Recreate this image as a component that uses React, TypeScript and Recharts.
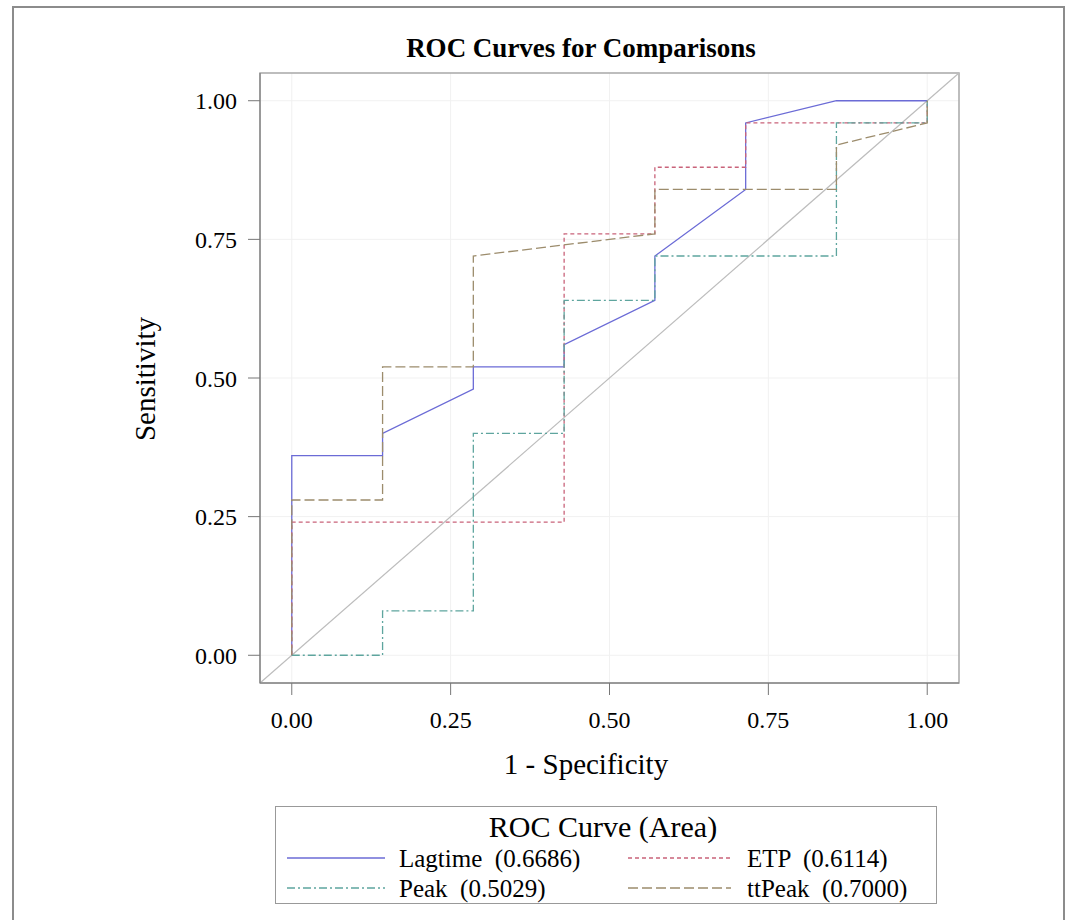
import {
  LineChart,
  Line,
  XAxis,
  YAxis,
  CartesianGrid,
  ReferenceLine,
  ReferenceArea,
} from 'recharts';

// ROC points (1 - specificity, sensitivity)
const lagtimeX = [0, 0, 0.1429, 0.1429, 0.2857, 0.2857, 0.4286, 0.4286, 0.5714, 0.5714, 0.7143, 0.7143, 0.8571, 1];
const lagtimeY = [0, 0.36, 0.36, 0.4, 0.48, 0.52, 0.52, 0.56, 0.64, 0.72, 0.84, 0.96, 1, 1];

const etpX = [0, 0, 0.4286, 0.4286, 0.5714, 0.5714, 0.7143, 0.7143, 1, 1];
const etpY = [0, 0.24, 0.24, 0.76, 0.76, 0.88, 0.88, 0.96, 0.96, 1];

const peakX = [0, 0.1429, 0.1429, 0.2857, 0.2857, 0.4286, 0.4286, 0.5714, 0.5714, 0.8571, 0.8571, 1, 1];
const peakY = [0, 0, 0.08, 0.08, 0.4, 0.4, 0.64, 0.64, 0.72, 0.72, 0.96, 0.96, 1];

const ttPeakX = [0, 0, 0.1429, 0.1429, 0.2857, 0.2857, 0.5714, 0.5714, 0.8571, 0.8571, 1, 1];
const ttPeakY = [0, 0.28, 0.28, 0.52, 0.52, 0.72, 0.76, 0.84, 0.84, 0.92, 0.96, 1];

const ticks = [0, 0.25, 0.5, 0.75, 1];
const tickLabels = ['0.00', '0.25', '0.50', '0.75', '1.00'];

const seriesNames = ['Lagtime', 'ETP', 'Peak', 'ttPeak'];
const areas = ['0.6686', '0.6114', '0.5029', '0.7000'];

const toPoints = (xs: number[], ys: number[]) => xs.map((x, i) => ({ x, y: ys[i] }));

const SERIF = '"Liberation Serif", "Times New Roman", serif';

const series = [
  { name: seriesNames[0], area: areas[0], data: toPoints(lagtimeX, lagtimeY), color: '#6b6bd6', dash: undefined },
  { name: seriesNames[1], area: areas[1], data: toPoints(etpX, etpY), color: '#c9637a', dash: '4 3' },
  { name: seriesNames[2], area: areas[2], data: toPoints(peakX, peakY), color: '#5ea59e', dash: '8 3 2 3' },
  { name: seriesNames[3], area: areas[3], data: toPoints(ttPeakX, ttPeakY), color: '#9c8c6c', dash: '10 4' },
];

const fmt = (v: number) => tickLabels[ticks.indexOf(v)] ?? String(v);

function LegendRow({ items }: { items: typeof series }) {
  return (
    <div style={{ display: 'flex', height: 30, alignItems: 'center' }}>
      {items.map((s, i) => (
        <div
          key={s.name}
          style={{ display: 'flex', alignItems: 'center', width: i === 0 ? 352 : 300 }}
        >
          <svg
            width={i === 0 ? 98 : 103}
            height={10}
            style={{ marginLeft: i === 0 ? 11 : 0, marginRight: i === 0 ? 14 : 16 }}
          >
            <line x1={0} y1={5} x2={103} y2={5} stroke={s.color} strokeWidth={1.3} strokeDasharray={s.dash} />
          </svg>
          <span style={{ whiteSpace: 'pre' }}>{`${s.name}  (${s.area})`}</span>
        </div>
      ))}
    </div>
  );
}

export default function App() {
  return (
    <div
      style={{
        position: 'absolute',
        left: 0,
        top: 0,
        width: 1066,
        height: 920,
        background: '#fff',
        fontFamily: SERIF,
        overflow: 'hidden',
      }}
    >
      <div
        style={{
          position: 'absolute',
          left: 12,
          top: 6,
          width: 1049,
          height: 930,
          borderLeft: '2px solid #8c8c8c',
          borderTop: '2px solid #8c8c8c',
          borderRight: '2px solid #8c8c8c',
        }}
      />
      <div
        style={{
          position: 'absolute',
          left: 381,
          top: 33,
          width: 400,
          textAlign: 'center',
          fontSize: 27,
          fontWeight: 'bold',
        }}
      >
        ROC Curves for Comparisons
      </div>

      <div style={{ position: 'absolute', left: 0, top: 0 }}>
        <LineChart
          width={1066}
          height={920}
          margin={{ top: 73, right: 107, bottom: 177, left: 160 }}
        >
          <CartesianGrid stroke="#f1f1f1" horizontalValues={ticks} verticalValues={ticks} />
          <ReferenceArea
            x1={-0.05}
            x2={1.05}
            y1={-0.05}
            y2={1.05}
            fill="none"
            stroke="#a8a8a8"
            strokeWidth={1.5}
            ifOverflow="visible"
          />
          <XAxis
            dataKey="x"
            type="number"
            domain={[-0.05, 1.05]}
            ticks={ticks}
            tickFormatter={fmt}
            allowDataOverflow
            height={60}
            stroke="#777"
            tickSize={12}
            tickMargin={16}
            tick={{ fontSize: 24, fill: '#000', fontFamily: SERIF }}
          />
          <YAxis
            dataKey="y"
            type="number"
            domain={[-0.05, 1.05]}
            ticks={ticks}
            tickFormatter={fmt}
            allowDataOverflow
            width={100}
            stroke="#777"
            tickSize={12}
            tickMargin={11}
            tick={{ fontSize: 24, fill: '#000', fontFamily: SERIF }}
          />
          <ReferenceLine
            segment={[
              { x: -0.05, y: -0.05 },
              { x: 1.05, y: 1.05 },
            ]}
            stroke="#bdbdbd"
            strokeWidth={1.2}
            ifOverflow="visible"
          />
          {series.map((s) => (
            <Line
              key={s.name}
              data={s.data}
              dataKey="y"
              name={s.name}
              type="linear"
              stroke={s.color}
              strokeWidth={1.3}
              strokeDasharray={s.dash}
              dot={false}
              activeDot={false}
              isAnimationActive={false}
            />
          ))}
        </LineChart>
      </div>

      <div
        style={{
          position: 'absolute',
          left: 386,
          top: 750,
          width: 400,
          textAlign: 'center',
          fontSize: 29,
          lineHeight: '29px',
        }}
      >
        1 - Specificity
      </div>

      <div
        style={{
          position: 'absolute',
          left: 130,
          top: 364,
          width: 30,
          height: 30,
        }}
      >
        <div
          style={{
            position: 'absolute',
            left: 15,
            top: 15,
            transform: 'translate(-50%, -50%) rotate(-90deg)',
            fontSize: 29,
            whiteSpace: 'nowrap',
          }}
        >
          Sensitivity
        </div>
      </div>

      <div
        style={{
          position: 'absolute',
          left: 275,
          top: 806,
          width: 660,
          height: 96,
          border: '1.5px solid #999',
          fontSize: 25,
          lineHeight: 1,
        }}
      >
        <div style={{ textAlign: 'center', fontSize: 30, height: 36, lineHeight: '40px', paddingRight: 6 }}>
          ROC Curve (Area)
        </div>
        <LegendRow items={[series[0], series[1]]} />
        <LegendRow items={[series[2], series[3]]} />
      </div>
    </div>
  );
}
